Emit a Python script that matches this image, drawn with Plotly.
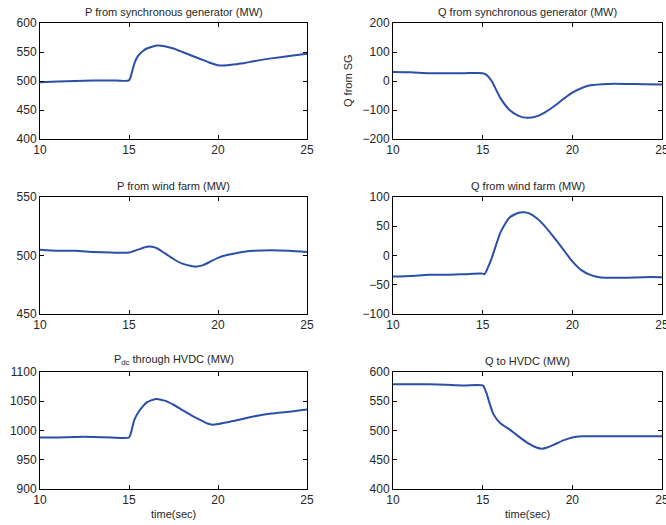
import plotly.graph_objects as go

# ---- data ----
t_psg = [10, 11, 12, 13, 14, 15, 15.1, 15.3, 15.5, 15.8, 16, 16.3, 16.6, 17, 17.5, 18, 18.5, 19, 19.5, 20, 20.5, 21, 21.5, 22, 23, 24, 25]
p_sg = [498, 499, 500, 501, 501, 501, 508, 530, 543, 552, 556, 559, 561, 560, 556, 550, 544, 538, 532, 527, 527, 529, 531, 534, 539, 543, 547]

t_qsg = [10, 11, 12, 13, 14, 15, 15.2, 15.5, 16, 16.5, 17, 17.5, 18, 18.5, 19, 19.5, 20, 20.5, 21, 22, 23, 24, 25]
q_sg = [31, 30, 27, 27, 27, 27, 22, 0, -60, -100, -120, -127, -122, -107, -86, -62, -40, -25, -15, -10, -10, -11, -12]

t_pwf = [10, 11, 12, 13, 14, 15, 15.5, 16, 16.3, 16.6, 17, 17.5, 18, 18.5, 18.8, 19.2, 19.6, 20, 20.5, 21, 22, 23, 24, 25]
p_wf = [505, 504, 504, 503, 502.5, 502.5, 505, 507.5, 507.5, 506, 502, 497, 493, 491, 490.5, 492, 495, 498, 500.5, 502, 504, 504.5, 504, 503]

t_qwf = [10, 11, 12, 13, 14, 15, 15.1, 15.3, 15.5, 16, 16.5, 17, 17.3, 17.6, 18, 18.5, 19, 19.5, 20, 20.5, 21, 21.5, 22, 23, 24, 25]
q_wf = [-36, -35, -33, -33, -32, -31, -32, -20, -5, 40, 65, 73, 74, 72, 64, 49, 30, 10, -10, -25, -33, -37, -38, -38, -37, -37]

t_pdc = [10, 11, 12, 13, 14, 15, 15.1, 15.3, 15.5, 15.8, 16, 16.5, 17, 17.5, 18, 18.5, 19, 19.4, 19.7, 20, 20.5, 21, 22, 23, 24, 25]
p_dc = [988, 988, 989, 989, 988, 988, 995, 1018, 1030, 1042, 1048, 1054, 1051, 1044, 1035, 1026, 1018, 1012, 1010, 1011, 1014, 1017, 1024, 1029, 1032, 1036]

t_qdc = [10, 11, 12, 13, 14, 15, 15.2, 15.4, 15.6, 16, 16.5, 17, 17.5, 18, 18.3, 18.6, 19, 19.5, 20, 20.5, 21, 22, 23, 24, 25]
q_dc = [579, 579, 579, 578, 577, 577, 565, 545, 528, 512, 502, 490, 479, 471, 469, 471, 476, 483, 488, 490, 490, 490, 490, 490, 490]

titles = ["P from synchronous generator (MW)", "Q from synchronous generator (MW)",
          "P from wind farm (MW)", "Q from wind farm (MW)",
          "P<sub>dc</sub> through HVDC (MW)", "Q to HVDC (MW)"]
y_ranges = [(400, 600), (-200, 200), (450, 550), (-100, 100), (900, 1100), (400, 600)]
y_dticks = [50, 100, 50, 50, 50, 50]
x_ticks = [10, 15, 20, 25]

series = [(t_psg, p_sg), (t_qsg, q_sg), (t_pwf, p_wf), (t_qwf, q_wf), (t_pdc, p_dc), (t_qdc, q_dc)]

W, H = 666, 525
x_dom = [(40 / W, 307 / W), (393 / W, 662 / W)]
y_pix = [(23, 139), (197, 314), (372, 489)]
y_dom = [(1 - b / H, 1 - a / H) for a, b in y_pix]

LINE = "#2b4ea8"
FONT = "Liberation Sans, Arial, sans-serif"
TXT = "#262626"

fig = go.Figure()
layout = dict(width=W, height=H, margin=dict(l=0, r=0, t=0, b=0, pad=0, autoexpand=False),
              paper_bgcolor="white", plot_bgcolor="white", showlegend=False,
              font=dict(family=FONT, size=12, color=TXT))
annotations = []
for i, (tx, ty) in enumerate(series):
    r, c = divmod(i, 2)
    n = "" if i == 0 else str(i + 1)
    fig.add_trace(go.Scatter(x=tx, y=ty, mode="lines", line=dict(color=LINE, width=2, shape="spline", smoothing=0.6),
                             xaxis="x" + n, yaxis="y" + n, hoverinfo="skip"))
    common = dict(showline=True, linecolor="black", linewidth=1, mirror="ticks", ticks="inside",
                  ticklen=4, tickcolor="black", showgrid=False, zeroline=False, automargin=False,
                  ticklabeloverflow="allow",
                  tickfont=dict(family=FONT, size=12, color=TXT))
    layout["xaxis" + n] = dict(domain=x_dom[c], range=[10, 25], tickvals=x_ticks, anchor="y" + n, **common)
    layout["yaxis" + n] = dict(domain=y_dom[r], range=list(y_ranges[i]), dtick=y_dticks[i], anchor="x" + n, **common)
    cx = (x_dom[c][0] + x_dom[c][1]) / 2
    annotations.append(dict(text=titles[i], x=cx, y=y_dom[r][1], xref="paper", yref="paper",
                            xanchor="center", yanchor="bottom", yshift=3, showarrow=False,
                            font=dict(family=FONT, size=11, color=TXT)))
    if r == 2:
        annotations.append(dict(text="time(sec)", x=cx, y=y_dom[r][0], xref="paper", yref="paper",
                                xanchor="center", yanchor="top", yshift=-17, showarrow=False,
                                font=dict(family=FONT, size=11, color=TXT)))

annotations.append(dict(text="Q from SG", x=348 / W, y=(y_dom[0][0] + y_dom[0][1]) / 2, xref="paper", yref="paper",
                        xanchor="center", yanchor="middle", textangle=-90, showarrow=False,
                        font=dict(family=FONT, size=11, color=TXT)))
layout["annotations"] = annotations
fig.update_layout(**layout)
fig.write_html("out.html", config={"displayModeBar": False},
               post_script="document.body.style.margin='0';document.body.style.overflow='hidden';")
